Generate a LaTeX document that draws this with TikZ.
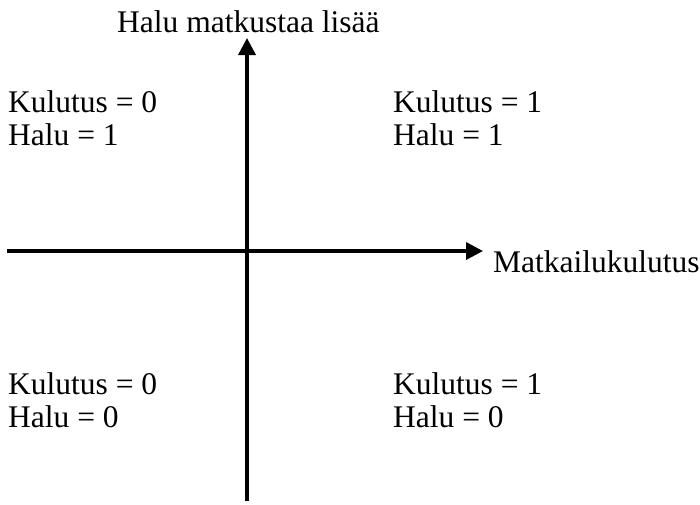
\documentclass[tikz,border=0pt]{standalone}
\usepackage{fontspec}
\setmainfont{Liberation Serif}
\usetikzlibrary{arrows.meta}
\begin{document}
\begin{tikzpicture}[x=1pt,y=-1pt,
  lbl/.style={anchor=base west,inner sep=0pt,font=\fontsize{31.5}{36}\selectfont},
  axisline/.style={line width=3.5pt,-{Triangle[length=17pt,width=17pt]}}]
\useasboundingbox (0,0) rectangle (700,504);
\coordinate (ybot) at (247,501);
\coordinate (ytop) at (247,38);
\coordinate (xleft) at (7,251);
\coordinate (xright) at (483,251);
\draw[axisline] (ybot) -- (ytop);
\draw[axisline] (xleft) -- (xright);
\node[lbl] (ylab) at (117,32) {Halu matkustaa lisää};
\node[lbl] (xlab) at (493,272) {Matkailukulutus};
\node[lbl] (tl1) at (8,112) {Kulutus = 0};
\node[lbl] (tl2) at (8,145) {Halu = 1};
\node[lbl] (tr1) at (393,112) {Kulutus = 1};
\node[lbl] (tr2) at (393,145) {Halu = 1};
\node[lbl] (bl1) at (8,394) {Kulutus = 0};
\node[lbl] (bl2) at (8,427) {Halu = 0};
\node[lbl] (br1) at (393,394) {Kulutus = 1};
\node[lbl] (br2) at (393,427) {Halu = 0};
\end{tikzpicture}
\end{document}
